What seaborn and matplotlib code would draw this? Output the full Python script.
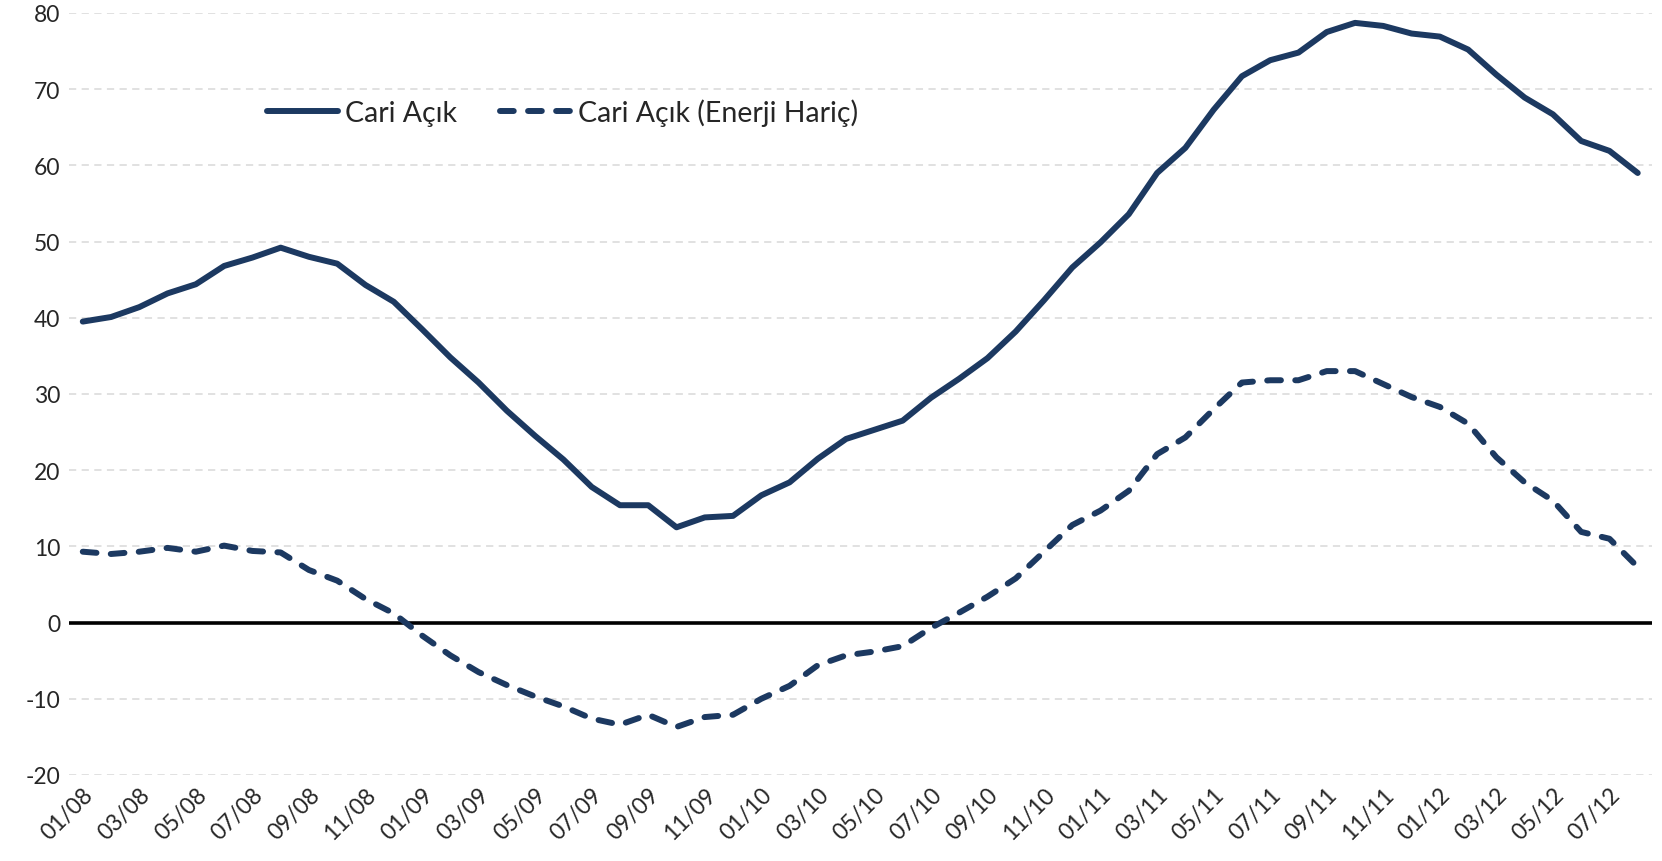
# ==========================================
# CARI ACIK CHART
# ==========================================

import pandas as pd
import matplotlib.pyplot as plt
import seaborn as sns

# ==========================================
# DATA
# ==========================================

months = [f"{m:02d}/{y:02d}" for y in range(8, 13) for m in range(1, 13)][:56]

cari_acik = [
    39.5, 40.1, 41.4, 43.2, 44.4, 46.8, 47.9, 49.2, 48.0, 47.1,
    44.3, 42.1, 38.5, 34.8, 31.5, 27.8, 24.5, 21.4, 17.8, 15.4,
    15.4, 12.5, 13.8, 14.0, 16.7, 18.4, 21.5, 24.1, 25.3, 26.5,
    29.5, 32.0, 34.7, 38.2, 42.3, 46.6, 49.9, 53.6, 59.0, 62.3,
    67.3, 71.7, 73.8, 74.8, 77.5, 78.7, 78.3, 77.3, 76.9, 75.2,
    71.9, 68.9, 66.7, 63.2, 61.9, 59.0
]

cari_acik_enerji_haric = [
    9.3, 9.0, 9.3, 9.8, 9.3, 10.1, 9.4, 9.2, 6.9, 5.5,
    3.1, 1.2, -1.7, -4.3, -6.5, -8.2, -9.7, -11.0, -12.6, -13.4,
    -12.1, -13.7, -12.4, -12.1, -10.0, -8.3, -5.6, -4.3, -3.8, -3.1,
    -0.7, 1.3, 3.4, 5.8, 9.3, 12.8, 14.7, 17.3, 22.1, 24.3,
    28.0, 31.5, 31.8, 31.8, 33.0, 33.0, 31.3, 29.6, 28.3, 26.1,
    21.7, 18.4, 16.0, 11.9, 11.0, 7.3
]

y_ticks = list(range(-20, 81, 10))

df = pd.DataFrame({
    "pos": range(len(months)),
    "month": months,
    "Cari Açık": cari_acik,
    "Cari Açık (Enerji Hariç)": cari_acik_enerji_haric
})

# ==========================================
# STYLE
# ==========================================

sns.set_theme(style="white")
plt.rcParams["font.family"] = ["Lato", "DejaVu Sans"]

navy = "#1c3961"

fig = plt.figure(figsize=(16.62, 8.62), dpi=100)
ax = fig.add_axes([0.0413, 0.0998, 0.9526, 0.884])

# ==========================================
# GRID
# ==========================================

for v in y_ticks:
    if v == 0:
        ax.axhline(0, color="black", linewidth=2.6, zorder=1)
    else:
        ax.axhline(v, color="#dedede", linewidth=1.3,
                   linestyle=(0, (4, 3)), zorder=0)

# ==========================================
# LINES
# ==========================================

sns.lineplot(
    data=df, x="pos", y="Cari Açık",
    color=navy, linewidth=4.3, solid_capstyle="round",
    solid_joinstyle="round",
    label="Cari Açık", ax=ax, zorder=3
)

sns.lineplot(
    data=df, x="pos", y="Cari Açık (Enerji Hariç)",
    color=navy, linewidth=4.3, linestyle=(0, (2.3, 2.4)),
    dash_capstyle="round", dash_joinstyle="round",
    label="Cari Açık (Enerji Hariç)", ax=ax, zorder=3
)

# ==========================================
# AXES
# ==========================================

ax.set_xlim(-0.5, len(months) - 0.5)
ax.set_ylim(-20, 80)

ax.set_yticks(y_ticks)
ax.set_yticklabels([str(v) for v in y_ticks], fontsize=16.5)

tick_pos = list(range(0, len(months), 2))
ax.set_xticks(tick_pos)
ax.set_xticklabels(
    [months[i] for i in tick_pos],
    fontsize=16.5, rotation=45, ha="right", rotation_mode="anchor"
)

ax.tick_params(axis="both", length=0, pad=6)
ax.set_xlabel("")
ax.set_ylabel("")

for s in ax.spines.values():
    s.set_visible(False)

# ==========================================
# LEGEND
# ==========================================

leg = ax.legend(
    loc="center left",
    bbox_to_anchor=(0.145, 0.869),
    bbox_transform=fig.transFigure,
    ncol=2,
    frameon=False,
    fontsize=20.5,
    handlelength=2.5,
    handletextpad=0.25,
    columnspacing=1.5
)

plt.savefig("out.png", dpi=100)
